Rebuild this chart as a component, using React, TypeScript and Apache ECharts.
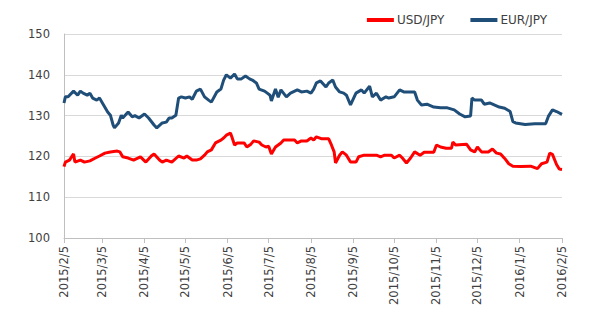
import React, { useEffect, useRef } from "react";
import * as echarts from "echarts";

const seriesNames = ["USD/JPY", "EUR/JPY"];
const yTicks = [100, 110, 120, 130, 140, 150];
const startDate = "2015/2/5";
const endDate = "2016/2/5";

const usdDates = [
  "2015/2/5", "2015/2/6", "2015/2/9", "2015/2/12", "2015/2/13", "2015/2/17", "2015/2/20", "2015/2/24", "2015/2/28",
  "2015/3/3", "2015/3/7", "2015/3/11", "2015/3/16", "2015/3/18", "2015/3/20", "2015/3/24", "2015/3/28",
  "2015/4/2", "2015/4/6", "2015/4/10", "2015/4/12", "2015/4/16", "2015/4/18", "2015/4/21", "2015/4/25", "2015/4/30",
  "2015/5/4", "2015/5/6", "2015/5/10", "2015/5/13", "2015/5/16", "2015/5/19", "2015/5/21", "2015/5/24", "2015/5/27", "2015/5/31",
  "2015/6/2", "2015/6/4", "2015/6/7", "2015/6/8", "2015/6/10", "2015/6/12", "2015/6/17", "2015/6/19", "2015/6/22", "2015/6/24", "2015/6/28", "2015/6/30",
  "2015/7/3", "2015/7/5", "2015/7/7", "2015/7/10", "2015/7/14", "2015/7/16", "2015/7/24", "2015/7/26", "2015/7/29",
  "2015/8/2", "2015/8/5", "2015/8/7", "2015/8/9", "2015/8/13", "2015/8/18", "2015/8/20", "2015/8/22", "2015/8/23", "2015/8/26", "2015/8/28", "2015/8/31",
  "2015/9/3", "2015/9/7", "2015/9/9", "2015/9/13", "2015/9/22", "2015/9/25", "2015/9/28",
  "2015/10/3", "2015/10/5", "2015/10/9", "2015/10/11", "2015/10/14", "2015/10/17", "2015/10/20", "2015/10/24", "2015/10/27",
  "2015/11/3", "2015/11/5", "2015/11/8", "2015/11/12", "2015/11/16", "2015/11/17", "2015/11/19", "2015/11/27", "2015/11/30",
  "2015/12/3", "2015/12/5", "2015/12/8", "2015/12/13", "2015/12/16", "2015/12/19", "2015/12/22", "2015/12/25", "2015/12/28", "2015/12/31",
  "2016/1/6", "2016/1/13", "2016/1/18", "2016/1/21", "2016/1/25", "2016/1/27", "2016/1/29",
  "2016/2/1", "2016/2/3", "2016/2/5",
];
const usdValues = [
  117.5, 118.6, 119.1, 120.6, 118.6, 119.1, 118.6, 118.9, 119.6,
  120.1, 120.8, 121.1, 121.3, 121.1, 119.9, 119.6, 119.1,
  119.9, 118.6, 120.1, 120.6, 119.1, 118.6, 119.1, 118.6, 120.1,
  119.6, 120.1, 119.1, 119.1, 119.4, 120.3, 121.1, 121.6, 123.3, 124.0,
  124.5, 125.2, 125.7, 124.8, 122.8, 123.3, 123.3, 122.3, 123.0, 123.8, 123.5, 122.8,
  122.3, 122.5, 120.6, 122.3, 123.3, 124.0, 124.0, 123.3, 123.8,
  123.8, 124.5, 124.0, 124.8, 124.3, 124.3, 122.8, 121.1, 118.4, 120.3, 121.1, 120.3,
  118.6, 118.6, 119.9, 120.3, 120.3, 119.9, 120.3,
  120.3, 119.6, 120.3, 119.6, 118.4, 119.6, 121.1, 120.3, 121.0,
  121.0, 122.8, 122.3, 122.0, 122.0, 123.5, 122.8, 123.0, 121.6,
  121.1, 122.3, 121.1, 121.1, 121.8, 120.8, 120.6, 119.5, 118.2, 117.6,
  117.5, 117.6, 117.0, 118.2, 118.6, 120.8, 120.5,
  118.0, 116.9, 116.8,
];

const eurDates = [
  "2015/2/5", "2015/2/6", "2015/2/8", "2015/2/12", "2015/2/15", "2015/2/17", "2015/2/19", "2015/2/22", "2015/2/24", "2015/2/26",
  "2015/3/1", "2015/3/3", "2015/3/6", "2015/3/9", "2015/3/11", "2015/3/13", "2015/3/14", "2015/3/17", "2015/3/19", "2015/3/20", "2015/3/24", "2015/3/27", "2015/3/29",
  "2015/4/1", "2015/4/5", "2015/4/8", "2015/4/12", "2015/4/14", "2015/4/18", "2015/4/21", "2015/4/23", "2015/4/25", "2015/4/28", "2015/4/30",
  "2015/5/2", "2015/5/5", "2015/5/8", "2015/5/10", "2015/5/13", "2015/5/16", "2015/5/19", "2015/5/22", "2015/5/24", "2015/5/28", "2015/5/31",
  "2015/6/2", "2015/6/4", "2015/6/7", "2015/6/10", "2015/6/12", "2015/6/15", "2015/6/18", "2015/6/21", "2015/6/23", "2015/6/26", "2015/6/28",
  "2015/7/2", "2015/7/4", "2015/7/6", "2015/7/7", "2015/7/10", "2015/7/12", "2015/7/14", "2015/7/18", "2015/7/21", "2015/7/26", "2015/7/29",
  "2015/8/2", "2015/8/5", "2015/8/7", "2015/8/9", "2015/8/12", "2015/8/16", "2015/8/18", "2015/8/21", "2015/8/23", "2015/8/26", "2015/8/29", "2015/8/31",
  "2015/9/3", "2015/9/7", "2015/9/11", "2015/9/13", "2015/9/17", "2015/9/19", "2015/9/22", "2015/9/25", "2015/9/29",
  "2015/10/1", "2015/10/5", "2015/10/9", "2015/10/12", "2015/10/17", "2015/10/20", "2015/10/22", "2015/10/25", "2015/10/29",
  "2015/11/3", "2015/11/8", "2015/11/13", "2015/11/18", "2015/11/22", "2015/11/26", "2015/11/30",
  "2015/12/1", "2015/12/3", "2015/12/8", "2015/12/10", "2015/12/14", "2015/12/21", "2015/12/25", "2015/12/29", "2015/12/31",
  "2016/1/2", "2016/1/9", "2016/1/16", "2016/1/24", "2016/1/26", "2016/1/29",
  "2016/2/1", "2016/2/5",
];
const eurValues = [
  133.1, 134.6, 134.6, 136.0, 135.0, 136.0, 135.5, 135.0, 135.5, 134.3,
  133.8, 134.3, 132.6, 130.9, 130.1, 127.7, 127.0, 128.2, 130.1, 129.4, 130.9, 129.7, 130.0,
  129.4, 130.4, 129.4, 127.7, 127.0, 128.2, 128.4, 129.4, 129.4, 130.1, 134.3,
  134.6, 134.3, 134.6, 134.0, 136.0, 136.5, 134.6, 133.8, 133.3, 135.8, 136.5,
  138.7, 140.0, 139.2, 140.2, 139.0, 139.0, 139.7, 139.0, 138.7, 138.0, 136.5,
  136.0, 135.5, 135.0, 133.6, 136.5, 134.5, 136.3, 134.6, 135.5, 136.3, 135.8,
  136.0, 135.5, 136.5, 138.0, 138.5, 137.0, 138.0, 138.7, 137.0, 135.8, 135.5, 135.0,
  132.6, 135.5, 136.3, 135.5, 137.2, 134.6, 135.5, 133.8, 134.6,
  134.3, 134.6, 136.3, 135.8, 135.8, 135.8, 133.8, 132.6, 132.8,
  132.1, 131.9, 131.9, 131.4, 130.4, 129.7, 129.9,
  134.3, 133.8, 133.8, 132.8, 133.1, 132.1, 131.8, 131.0, 128.5,
  128.2, 127.8, 128.0, 128.0, 129.8, 131.4,
  131.0, 130.3,
];

function buildCategories(from: string, to: string): string[] {
  const [fy, fm, fd] = from.split("/").map(Number);
  const [ty, tm, td] = to.split("/").map(Number);
  const d = new Date(Date.UTC(fy, fm - 1, fd));
  const end = Date.UTC(ty, tm - 1, td);
  const out: string[] = [];
  while (d.getTime() <= end) {
    out.push(`${d.getUTCFullYear()}/${d.getUTCMonth() + 1}/${d.getUTCDate()}`);
    d.setUTCDate(d.getUTCDate() + 1);
  }
  return out;
}

export default function App() {
  const ref = useRef<HTMLDivElement>(null);
  useEffect(() => {
    if (!ref.current) return;
    const chart = echarts.init(ref.current, undefined, { renderer: "svg" });
    const categories = buildCategories(startDate, endDate);
    const isTick = (_i: number, v: string) => v.split("/")[2] === "5";
    const font = "DejaVu Sans, Verdana, sans-serif";
    chart.setOption({
      animation: false,
      backgroundColor: "#ffffff",
      legend: {
        data: seriesNames,
        top: 9,
        right: 50,
        icon: "rect",
        itemWidth: 27,
        itemHeight: 4,
        itemGap: 26,
        textStyle: { fontFamily: font, fontSize: 12, color: "#404040", padding: [0, 0, 0, -2] },
      },
      grid: { left: 64, right: 40, top: 34, bottom: 89 },
      xAxis: {
        type: "category",
        data: categories,
        boundaryGap: false,
        axisLine: { show: true, lineStyle: { color: "#BFBFBF", width: 1 } },
        axisTick: { show: true, interval: isTick, length: 5, lineStyle: { color: "#BFBFBF" } },
        axisLabel: {
          interval: isTick,
          rotate: 90,
          margin: 8,
          fontFamily: font,
          fontSize: 11.5,
          color: "#404040",
        },
        splitLine: { show: false },
      },
      yAxis: {
        type: "value",
        min: yTicks[0],
        max: yTicks[yTicks.length - 1],
        interval: 10,
        axisLine: { show: true, lineStyle: { color: "#BFBFBF", width: 1 } },
        axisTick: { show: false },
        axisLabel: { margin: 14, fontFamily: font, fontSize: 11.5, color: "#404040" },
        splitLine: { lineStyle: { color: "#D9D9D9", width: 1 } },
      },
      series: [
        {
          name: seriesNames[0],
          type: "line",
          data: usdDates.map((d, i) => [d, usdValues[i]]),
          symbol: "none",
          connectNulls: true,
          lineStyle: { color: "#FF0000", width: 3 },
          itemStyle: { color: "#FF0000" },
          z: 3,
        },
        {
          name: seriesNames[1],
          type: "line",
          data: eurDates.map((d, i) => [d, eurValues[i]]),
          symbol: "none",
          connectNulls: true,
          lineStyle: { color: "#1F4E79", width: 3 },
          itemStyle: { color: "#1F4E79" },
          z: 2,
        },
      ],
    });
    return () => chart.dispose();
  }, []);
  return (
    <div
      ref={ref}
      style={{ position: "absolute", left: 0, top: 0, width: 602, height: 327 }}
    />
  );
}
